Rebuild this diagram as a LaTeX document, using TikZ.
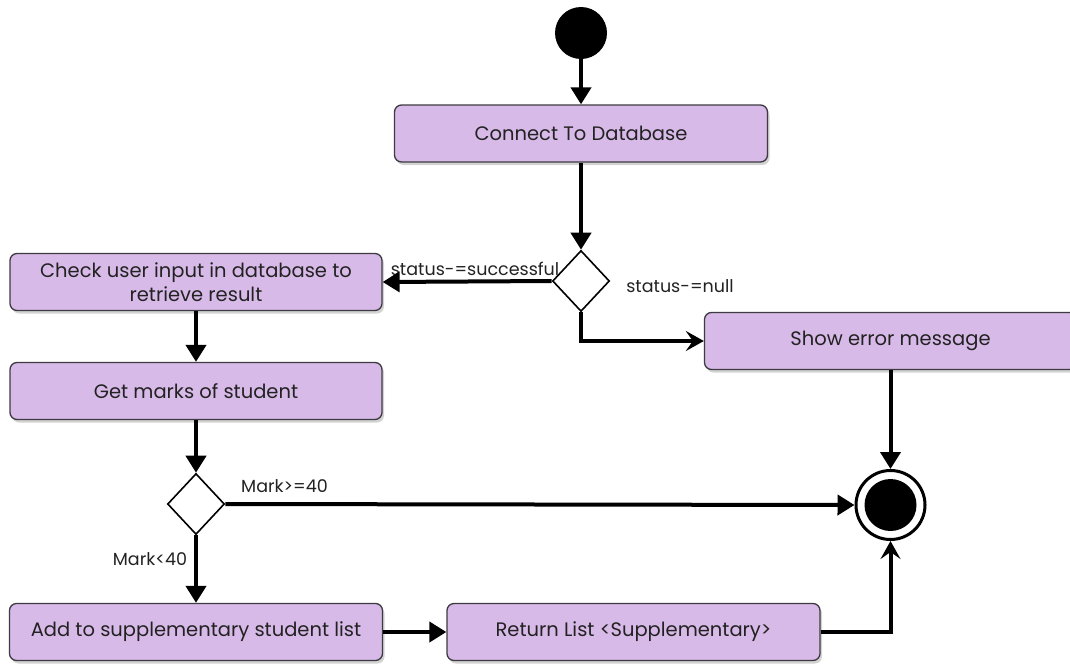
\documentclass[tikz,border=0pt]{standalone}
\usepackage{fontspec}
\setmainfont{Poppins}
\usetikzlibrary{arrows.meta,shapes.geometric,shadows}
\definecolor{actfill}{RGB}{216,186,232}
\definecolor{actline}{RGB}{62,58,66}
\definecolor{txt}{RGB}{34,34,34}
\begin{document}
\begin{tikzpicture}[x=1pt,y=-1pt,
  act/.style={draw=actline, line width=1.3pt, fill=actfill, rounded corners=7pt,
    minimum height=57pt, minimum width=373pt, align=center, inner sep=0pt,
    text=txt, font=\fontsize{19.5}{24}\selectfont,
    drop shadow={shadow xshift=2pt, shadow yshift=-3pt, opacity=0.35}},
  dec/.style={diamond, draw=black, line width=1.6pt, fill=white, inner sep=0pt,
    minimum width=57pt, minimum height=61pt},
  lbl/.style={text=txt, inner sep=0pt, font=\fontsize{17.5}{20}\selectfont},
  conn/.style={line width=4pt, -{Triangle[length=17pt,width=20pt]}},
  conns/.style={line width=4pt, -{Stealth[length=18pt,width=20pt,inset=7pt]}}]
\useasboundingbox (0,0) rectangle (1070,664);

% nodes
\node[circle, fill=black, minimum size=52pt, inner sep=0pt] (start) at (581,33) {};
\node[act] (connect) at (581,133.5) {Connect To Database};
\node[dec] (d1) at (581,281) {};
\node[act, minimum width=372pt] (check) at (196,282) {Check user input in database to\\retrieve result};
\node[act, minimum width=372pt] (error) at (890.5,341) {Show error message};
\node[act, minimum width=372pt] (marks) at (196,391) {Get marks of student};
\node[dec] (d2) at (196,504) {};
\node[circle, draw=black, line width=3pt, fill=white, minimum size=69pt, inner sep=0pt] (final) at (890.5,505) {};
\node[circle, fill=black, minimum size=52pt, inner sep=0pt] (finaldot) at (final.center) {};
\node[act] (add) at (196,632) {Add to supplementary student list};
\node[act] (ret) at (633.5,632) {Return List <Supplementary>};

% labels
\node[lbl] (lsucc) at (475,269) {status-=successful};
\node[lbl] (lnull) at (680,286) {status-=null};
\node[lbl] (lge) at (284.5,486) {Mark>=40};
\node[lbl] (llt) at (150,559) {Mark<40};

% connectors
\draw[conn] (start) -- (connect);
\draw[conn] (connect) -- (d1);
\draw[conn] (d1.west) -- (check.east);
\draw[conns] (d1.south) |- (error.west);
\draw[conn] (error) -- (final);
\draw[conn] (check) -- (marks);
\draw[conn] (marks) -- (d2);
\draw[conn] (d2.east) -- (final.west);
\draw[conn] (d2.south) -- (add.north);
\draw[conn] (add.east) -- (ret.west);
\draw[conns] (ret.east) -| (final.south);
\end{tikzpicture}
\end{document}
